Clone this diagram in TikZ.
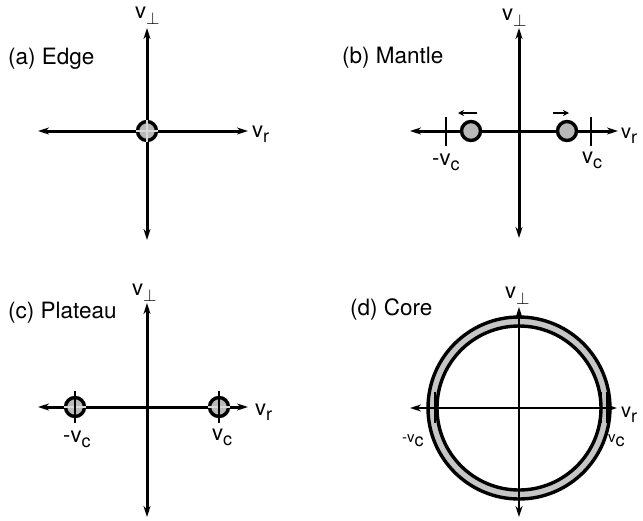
\documentclass[tikz,border=0pt]{standalone}
\usepackage{fontspec}
\setmainfont{TeX Gyre Heros}
\usetikzlibrary{arrows.meta}
\newcommand{\mysub}[1]{\raisebox{-0.27em}{\fontsize{18}{18}\selectfont #1}}
\newcommand{\myperp}{\raisebox{-0.3em}{\fontsize{18}{18}\selectfont$\perp$}}
\begin{document}
\begin{tikzpicture}[x=1pt,y=-1pt,
  axis/.style={line width=3pt,{Stealth[length=11pt,width=7pt]}-{Stealth[length=11pt,width=7pt]}},
  thinaxis/.style={line width=2.4pt,{Stealth[length=11pt,width=7pt]}-{Stealth[length=11pt,width=7pt]}},
  blob/.style={circle,draw,line width=3.4pt,fill=gray!55,minimum size=19pt,inner sep=0pt},
  tickline/.style={line width=2.8pt},
  fineline/.style={line width=1.6pt},
  crossline/.style={line width=1.2pt,draw=gray!30},
  moveline/.style={line width=2.4pt,-{Stealth[length=6pt,width=6pt]}},
  title/.style={font=\fontsize{22.5}{25}\selectfont,inner sep=0pt,anchor=base west},
  lab/.style={font=\fontsize{22}{24}\selectfont,inner sep=0pt,anchor=base west},
  edgelab/.style={font=\fontsize{20}{22}\selectfont,inner sep=0pt,anchor=base west},
  smalllab/.style={font=\fontsize{15}{17}\selectfont,inner sep=0pt,anchor=base west}]
\useasboundingbox (0,0) rectangle (643,520);

% ---------- (a) Edge ----------
\coordinate (aL) at (38,131);  \coordinate (aR) at (248,131);
\coordinate (aT) at (147,28);  \coordinate (aB) at (147,240);
\draw[axis] (aL) -- (aR);
\draw[axis] (aB) -- (aT);
\node[blob] (aC) at (147,131) {};
\draw[crossline] (aC.west) -- (aC.east);
\draw[crossline] (aC.north) -- (aC.south);
\node[title] (aTitle) at (8,64) {(a) Edge};
\node[lab] (aVp) at (135,18) {v\myperp};
\node[lab] (aVr) at (252,137) {v\mysub{r}};

% ---------- (b) Mantle ----------
\coordinate (bL) at (410,131); \coordinate (bR) at (618,131);
\coordinate (bT) at (519,28);  \coordinate (bB) at (519,238);
\draw[axis] (bL) -- (bR);
\draw[axis] (bB) -- (bT);
\coordinate (bt1a) at (446,117); \coordinate (bt1b) at (446,146);
\coordinate (bt2a) at (591,117); \coordinate (bt2b) at (591,146);
\draw[tickline] (bt1a) -- (bt1b);
\draw[tickline] (bt2a) -- (bt2b);
\node[blob] (bC1) at (471,131) {};
\node[blob] (bC2) at (567,131) {};
\coordinate (bm1s) at (477,113); \coordinate (bm1e) at (458,113);
\coordinate (bm2s) at (553,113); \coordinate (bm2e) at (569,113);
\draw[moveline] (bm1s) -- (bm1e);
\draw[moveline] (bm2s) -- (bm2e);
\node[title] (bTitle) at (342,63) {(b) Mantle};
\node[lab] (bVp) at (502,20) {v\myperp};
\node[edgelab] (bVr) at (621,138) {v\mysub{r}};
\node[lab] (bVcm) at (432,165) {-v\mysub{c}};
\node[lab] (bVc) at (582,163) {v\mysub{c}};

% ---------- (c) Plateau ----------
\coordinate (cL) at (38,407);  \coordinate (cR) at (248,407);
\coordinate (cT) at (147,303); \coordinate (cB) at (147,517);
\draw[axis] (cL) -- (cR);
\draw[axis] (cB) -- (cT);
\node[blob] (cC1) at (75,407) {};
\node[blob] (cC2) at (219,407) {};
\draw[crossline] (cC1.west) -- (cC1.east);
\draw[crossline] (cC2.west) -- (cC2.east);
\coordinate (ct1a) at (75,391); \coordinate (ct1b) at (75,423);
\coordinate (ct2a) at (219,391); \coordinate (ct2b) at (219,423);
\draw[tickline] (ct1a) -- (ct1b);
\draw[tickline] (ct2a) -- (ct2b);
\node[title] (cTitle) at (8,318) {(c) Plateau};
\node[lab] (cVp) at (132,295) {v\myperp};
\node[lab] (cVr) at (255,415) {v\mysub{r}};
\node[lab] (cVcm) at (63,442) {-v\mysub{c}};
\node[lab] (cVc) at (212,440) {v\mysub{c}};

% ---------- (d) Core ----------
\coordinate (dO) at (519,408);
\fill[gray!45,even odd rule] (dO) circle[radius=91pt] (dO) circle[radius=82pt];
\draw[line width=3.4pt] (dO) circle[radius=91pt];
\draw[line width=3.4pt] (dO) circle[radius=82pt];
\coordinate (dL) at (410,408); \coordinate (dR) at (617,408);
\coordinate (dT) at (519,307); \coordinate (dB) at (519,517);
\draw[thinaxis] (dL) -- (dR);
\draw[thinaxis] (dB) -- (dT);
\coordinate (dt1a) at (429,392); \coordinate (dt1b) at (429,423);
\coordinate (dt2a) at (435,392); \coordinate (dt2b) at (435,423);
\coordinate (dt3a) at (601,392); \coordinate (dt3b) at (601,423);
\coordinate (dt4a) at (607,392); \coordinate (dt4b) at (607,423);
\draw[fineline] (dt1a) -- (dt1b);
\draw[fineline] (dt2a) -- (dt2b);
\draw[fineline] (dt3a) -- (dt3b);
\draw[fineline] (dt4a) -- (dt4b);
\node[title] (dTitle) at (350,315) {(d) Core};
\node[lab] (dVp) at (505,298) {v\myperp};
\node[edgelab] (dVr) at (621,417) {v\mysub{r}};
\node[smalllab] (dVcm) at (402,442) {-v\mysub{c}};
\node[smalllab] (dVc) at (608,442) {v\mysub{c}};
\end{tikzpicture}
\end{document}
